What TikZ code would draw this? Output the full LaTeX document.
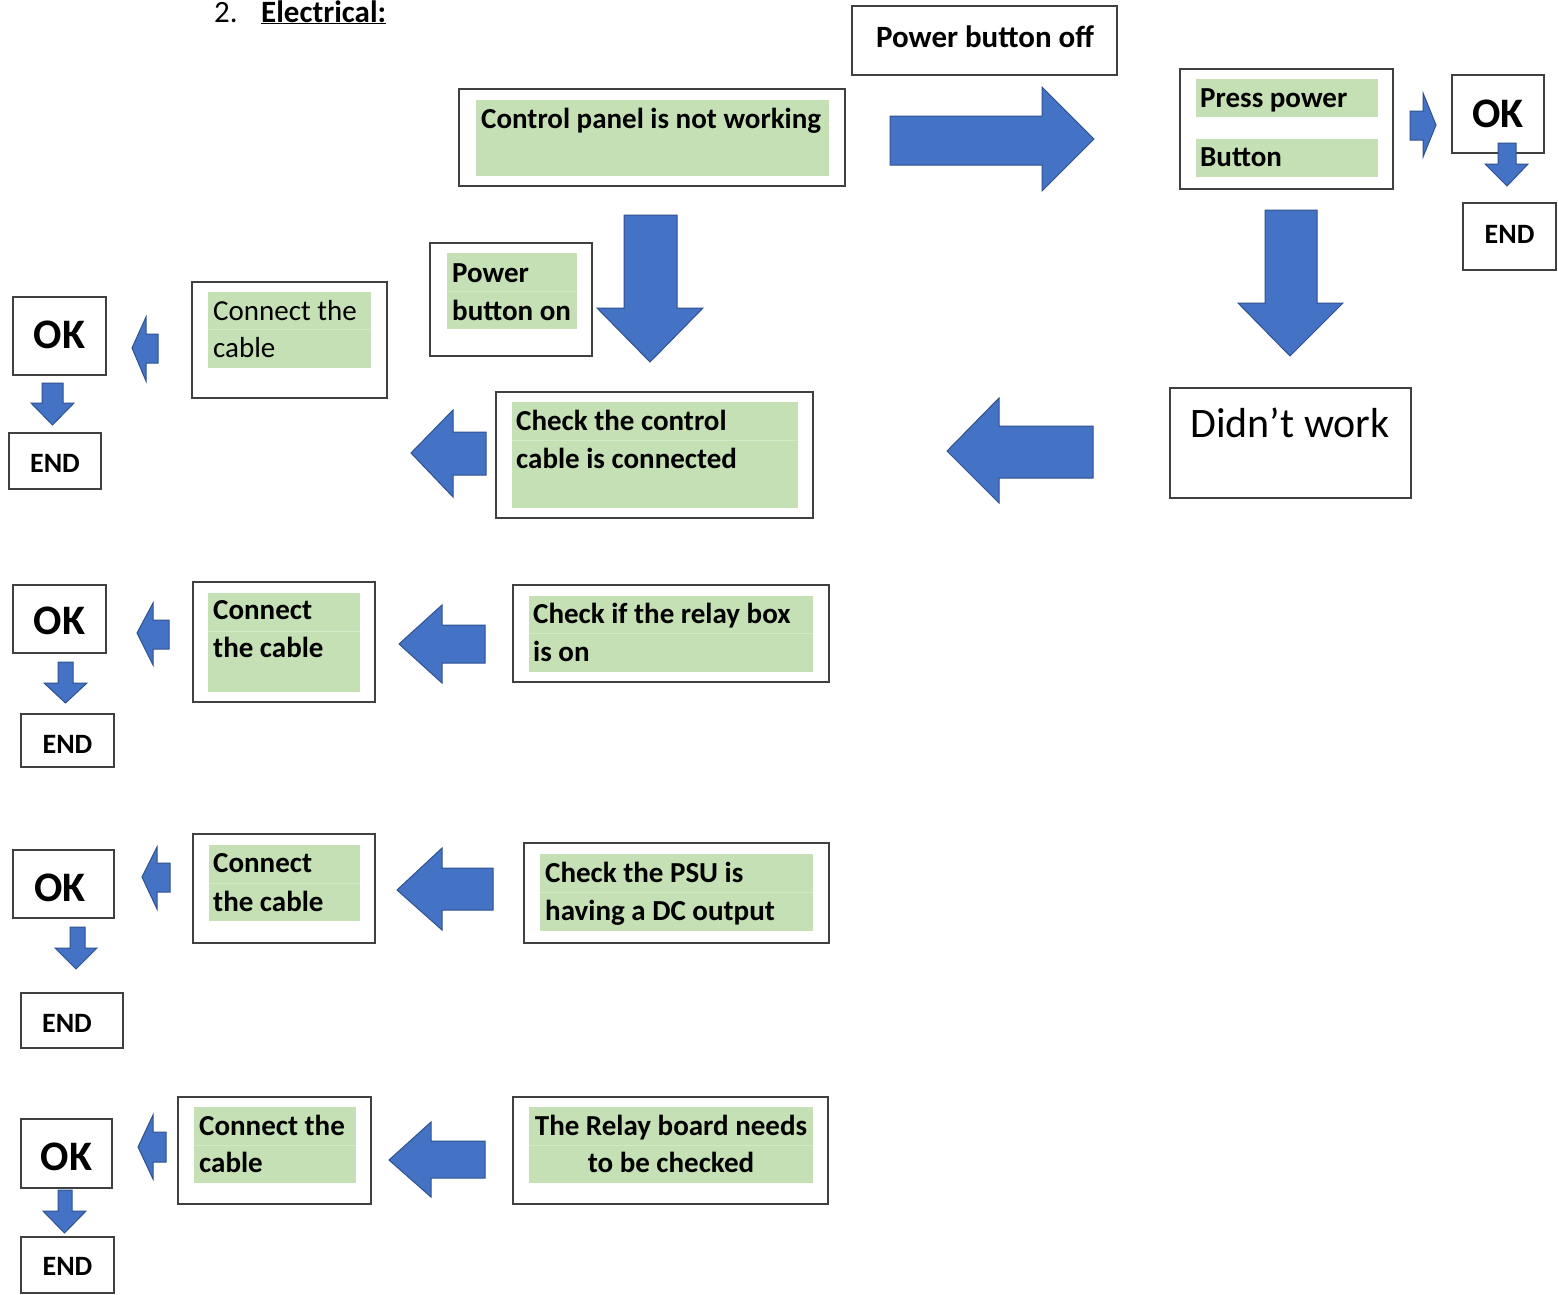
\documentclass[tikz,border=0pt]{standalone}
\usepackage{fontspec}
\setmainfont{Carlito}
\usetikzlibrary{fit}
\definecolor{abl}{HTML}{4472C4}
\definecolor{aed}{HTML}{2F528F}
\definecolor{grn}{HTML}{C5E0B4}
\definecolor{grl}{HTML}{D3E8C7}
\definecolor{bdr}{HTML}{404040}
\newcommand\fsz[1]{\fontsize{#1}{#1}\selectfont}
\tikzset{
  box/.style={draw=bdr, line width=1.4pt, inner sep=0pt, fill=white},
  gbox/.style={fill=grn, draw=none, inner sep=0pt},
  barrow/.style={fill=abl, draw=aed, line width=1pt, line join=miter},
  sep/.style={draw=grl, line width=1pt},
  txt/.style={inner sep=0pt, font=\fsz{29}\bfseries, anchor=base west},
  rtxt/.style={inner sep=0pt, font=\fsz{29}, anchor=base west},
  ctxt/.style={inner sep=0pt, font=\fsz{29}\bfseries, anchor=base},
  oktxt/.style={inner sep=0pt, font=\fsz{42}\bfseries, anchor=base},
  endtxt/.style={inner sep=0pt, font=\fsz{28}\bfseries, anchor=base},
}
\begin{document}
\begin{tikzpicture}[x=1pt,y=-1pt]
\useasboundingbox (0,0) rectangle (1558,1294);
\fill[white] (0,0) rectangle (1558,1294);

% title
\node[inner sep=0pt, font=\fsz{31}, anchor=base west] (t2) at (214,22) {2.};
\node[inner sep=0pt, font=\fsz{31}\bfseries, anchor=base west] (tel) at (261,22) {\underline{Electrical:}};

% ---------- boxes ----------
\node[box, fit={(852,6)(1117,75)}] (off) {};
\node[inner sep=0pt, font=\fsz{31}\bfseries, anchor=base] (offt) at (985,47) {Power button off};

\node[box, fit={(459,89)(845,186)}] (ctrl) {};
\node[gbox, fit={(476,100)(829,176)}] (ctrlg) {};
\node[txt] (ctrlt) at (481,128) {Control panel is not working};

\node[box, fit={(1180,69)(1393,189)}] (press) {};
\node[gbox, fit={(1196,79)(1378,117)}] (pressg1) {};
\node[gbox, fit={(1196,139)(1378,177)}] (pressg2) {};
\node[txt] (presst1) at (1200,107) {Press power};
\node[txt] (presst2) at (1200,166) {Button};

\node[box, fit={(1452,75)(1544,153)}] (ok0) {};
\node[oktxt] (ok0t) at (1498,127) {OK};
\node[box, fit={(1463,203)(1556,270)}] (end0) {};
\node[endtxt] (end0t) at (1509.5,243) {END};

\node[box, fit={(1170,388)(1411,498)}] (didnt) {};
\node[inner sep=0pt, font=\fsz{42}, anchor=base] (didntt) at (1290,437) {Didn’t work};

\node[box, fit={(496,392)(813,518)}] (check) {};
\node[gbox, fit={(512,402)(798,508)}] (checkg) {};
\draw[sep] (512,440) -- (798,440);
\node[txt] (checkt1) at (516,430) {Check the control};
\node[txt] (checkt2) at (516,468) {cable is connected};

\node[box, fit={(430,243)(592,356)}] (pon) {};
\node[gbox, fit={(447,253)(577,329)}] (pong) {};
\draw[sep] (447,291) -- (577,291);
\node[txt] (pont1) at (452,282) {Power};
\node[txt] (pont2) at (452,320) {button on};

% row 1
\node[box, fit={(192,282)(387,398)}] (conn1) {};
\node[gbox, fit={(208,292)(371,368)}] (conn1g) {};
\draw[sep] (208,329) -- (371,329);
\node[rtxt] (conn1t1) at (213,320) {Connect the};
\node[rtxt] (conn1t2) at (213,357) {cable};
\node[box, fit={(13,297)(106,375)}] (ok1) {};
\node[oktxt] (ok1t) at (59.5,348) {OK};
\node[box, fit={(9,433)(101,489)}] (end1) {};
\node[endtxt] (end1t) at (55,472) {END};

% row 2
\node[box, fit={(193,582)(375,702)}] (conn2) {};
\node[gbox, fit={(208,593)(360,692)}] (conn2g) {};
\draw[sep] (208,631) -- (360,631);
\node[txt] (conn2t1) at (213,619) {Connect};
\node[txt] (conn2t2) at (213,657) {the cable};
\node[box, fit={(513,585)(829,682)}] (relay) {};
\node[gbox, fit={(529,596)(813,672)}] (relayg) {};
\draw[sep] (529,633) -- (813,633);
\node[txt] (relayt1) at (533,623) {Check if the relay box};
\node[txt] (relayt2) at (533,661) {is on};
\node[box, fit={(13,585)(106,653)}] (ok2) {};
\node[oktxt] (ok2t) at (59.5,634) {OK};
\node[box, fit={(21,714)(114,767)}] (end2) {};
\node[endtxt] (end2t) at (67.5,753) {END};

% row 3
\node[box, fit={(193,834)(375,943)}] (conn3) {};
\node[gbox, fit={(209,845)(360,921)}] (conn3g) {};
\draw[sep] (209,883) -- (360,883);
\node[txt] (conn3t1) at (213,872) {Connect};
\node[txt] (conn3t2) at (213,911) {the cable};
\node[box, fit={(524,843)(829,943)}] (psu) {};
\node[gbox, fit={(540,854)(813,931)}] (psug) {};
\draw[sep] (540,892) -- (813,892);
\node[txt] (psut1) at (545,882) {Check the PSU is};
\node[txt] (psut2) at (545,920) {having a DC output};
\node[box, fit={(13,850)(114,918)}] (ok3) {};
\node[oktxt] (ok3t) at (60,901) {OK};
\node[box, fit={(21,993)(123,1048)}] (end3) {};
\node[endtxt] (end3t) at (67,1032) {END};

% row 4
\node[box, fit={(178,1097)(371,1204)}] (conn4) {};
\node[gbox, fit={(194,1107)(356,1183)}] (conn4g) {};
\draw[sep] (194,1145) -- (356,1145);
\node[txt] (conn4t1) at (199,1135) {Connect the};
\node[txt] (conn4t2) at (199,1172) {cable};
\node[box, fit={(513,1097)(828,1204)}] (rb) {};
\node[gbox, fit={(529,1107)(813,1183)}] (rbg) {};
\draw[sep] (529,1145) -- (813,1145);
\node[ctxt] (rbt1) at (671,1135) {The Relay board needs};
\node[ctxt] (rbt2) at (671,1172) {to be checked};
\node[box, fit={(21,1119)(112,1188)}] (ok4) {};
\node[oktxt] (ok4t) at (66.5,1170) {OK};
\node[box, fit={(21,1237)(114,1293)}] (end4) {};
\node[endtxt] (end4t) at (67.5,1275) {END};

% ---------- block arrows ----------
\draw[barrow] (890,116) -- (1042,116) -- (1042,87) -- (1094,139) -- (1042,191) -- (1042,165) -- (890,165) -- cycle;
\draw[barrow] (1410,111) -- (1423,111) -- (1423,93) -- (1436,125) -- (1423,157) -- (1423,140) -- (1410,140) -- cycle;
\draw[barrow] (1498,143) -- (1516,143) -- (1516,164) -- (1528,164) -- (1507,186) -- (1485,164) -- (1498,164) -- cycle;
\draw[barrow] (1265,210) -- (1317,210) -- (1317,303) -- (1343,303) -- (1290,356) -- (1238,303) -- (1265,303) -- cycle;
\draw[barrow] (1093,426) -- (999,426) -- (999,398) -- (947,451) -- (999,503) -- (999,478) -- (1093,478) -- cycle;
\draw[barrow] (486,432) -- (453,432) -- (453,410) -- (411,453) -- (453,497) -- (453,475) -- (486,475) -- cycle;
\draw[barrow] (624,215) -- (677,215) -- (677,308) -- (703,308) -- (650,362) -- (597,308) -- (624,308) -- cycle;
\draw[barrow] (158,334) -- (146,334) -- (146,317) -- (132,348) -- (146,381) -- (146,363) -- (158,363) -- cycle;
\draw[barrow] (42,383) -- (63,383) -- (63,403) -- (74,403) -- (52.5,425) -- (31,403) -- (42,403) -- cycle;
\draw[barrow] (169,620) -- (153,620) -- (153,603) -- (137,633) -- (153,665) -- (153,649) -- (169,649) -- cycle;
\draw[barrow] (485,625) -- (442,625) -- (442,605) -- (399,644) -- (442,683) -- (442,663) -- (485,663) -- cycle;
\draw[barrow] (58,662) -- (73,662) -- (73,683) -- (87,683) -- (65.5,703) -- (44,683) -- (58,683) -- cycle;
\draw[barrow] (170,863) -- (157,863) -- (157,847) -- (142,877) -- (157,909) -- (157,892) -- (170,892) -- cycle;
\draw[barrow] (493,868) -- (442,868) -- (442,848) -- (397,890) -- (442,930) -- (442,910) -- (493,910) -- cycle;
\draw[barrow] (70,927) -- (85,927) -- (85,948) -- (97,948) -- (76,969) -- (55,948) -- (70,948) -- cycle;
\draw[barrow] (166,1132) -- (153,1132) -- (153,1115) -- (138,1147) -- (153,1179) -- (153,1162) -- (166,1162) -- cycle;
\draw[barrow] (485,1141) -- (431,1141) -- (431,1122) -- (389,1160) -- (431,1197) -- (431,1178) -- (485,1178) -- cycle;
\draw[barrow] (58,1190) -- (72,1190) -- (72,1211) -- (86,1211) -- (64.5,1233) -- (43,1211) -- (58,1211) -- cycle;
\end{tikzpicture}
\end{document}
